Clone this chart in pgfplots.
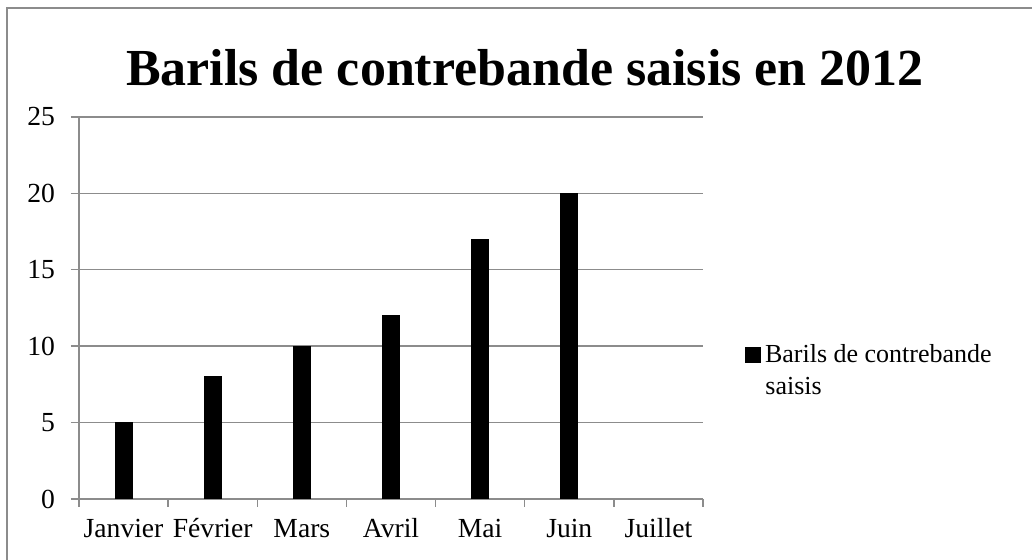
\documentclass[border=0pt]{standalone}
\usepackage{pgfplots}
\pgfplotsset{compat=1.18}
\usepackage{fontspec}
\setmainfont{Liberation Serif}
\definecolor{gridgray}{RGB}{140,140,140}
\begin{document}
\begin{tikzpicture}[x=1pt,y=1pt]
\useasboundingbox (-39.5,-30.5) rectangle (476.5,249.5);
\draw[gridgray, line width=1pt] (-35.75,-40) -- (-35.75,245.5) -- (490,245.5);
\begin{axis}[
  at={(0,0)}, anchor=south west,
  scale only axis, width=312pt, height=191pt,
  xmin=-0.5, xmax=6.5, ymin=0, ymax=25,
  ytick={0,5,...,25},
  xtick={0,...,6},
  xticklabels={Janvier,Février,Mars,Avril,Mai,Juin,Juillet},
  minor xtick={-0.5,0.5,...,6.5},
  major x tick style={draw=none},
  tick align=outside,
  major tick length=4pt, minor tick length=4pt,
  tick style={gridgray, line width=0.7pt},
  ymajorgrids, grid style={gridgray, line width=0.7pt},
  axis x line*=bottom, axis y line*=left,
  axis line style={gridgray, line width=0.7pt, -},
  ticklabel style={font=\fontsize{13.8}{16}\selectfont},
  yticklabel style={xshift=-4.5pt},
  xticklabel style={yshift=-2pt, text height=9.5pt, text depth=3pt, anchor=north},
  /pgf/number format/assume math mode=true,
  legend style={draw=none, at={(1.067,0.377)}, anchor=west, font=\fontsize{13}{15}\selectfont, inner sep=0pt},
  legend image code/.code={\fill[black] (0pt,-3.75pt) rectangle (7.5pt,3.75pt);},
]
\addplot[ybar, bar width=8.5pt, fill=black, draw=black] coordinates {(0,5) (1,8) (2,10) (3,12) (4,17) (5,20)};
\addlegendentry{Barils de contrebande}
\end{axis}
\node[anchor=base, font=\fontsize{26}{30}\selectfont\bfseries] at (223,206.5) {Barils de contrebande saisis en 2012};
\node[anchor=base west, inner sep=0pt, font=\fontsize{13}{15}\selectfont] at (343,52) {saisis};
\end{tikzpicture}
\end{document}
